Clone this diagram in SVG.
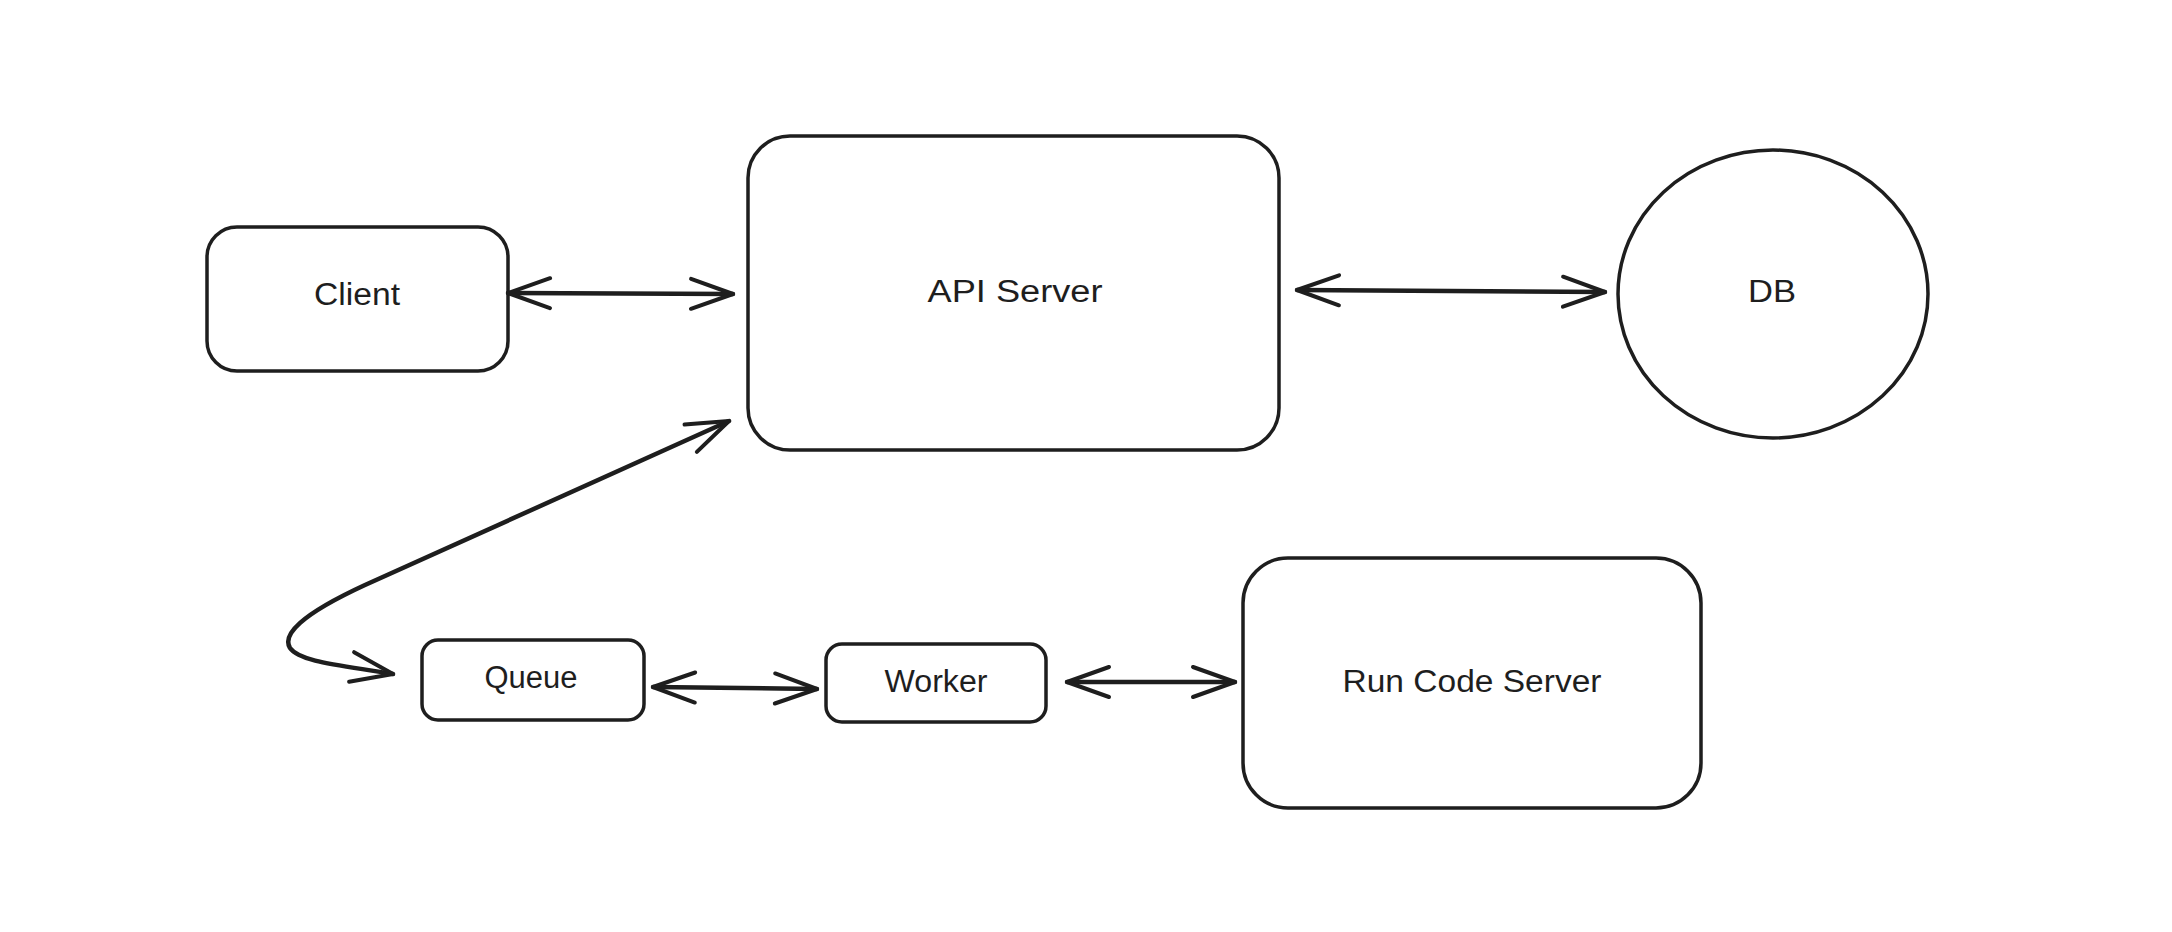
<svg xmlns="http://www.w3.org/2000/svg" width="2172" height="932" viewBox="0 0 2172 932">
  <style>
    .shape { fill: none; stroke: #1e1e1e; stroke-width: 3.5; stroke-linejoin: round; }
    .edge { fill: none; stroke: #1e1e1e; stroke-width: 4.5; stroke-linecap: round; stroke-linejoin: round; }
    .label { font-family: "Liberation Sans", "Noto Sans", sans-serif; font-size: 31px; fill: #1e1e1e; text-anchor: middle; }
  </style>
  <defs>
    <marker id="open" viewBox="-47 -20 52 40" refX="0" refY="0" markerWidth="52" markerHeight="40" markerUnits="userSpaceOnUse" orient="auto-start-reverse">
      <path d="M -42,-15 L 0,0 L -42,15" fill="none" stroke="#1e1e1e" stroke-width="4" stroke-linecap="round" stroke-linejoin="round"/>
    </marker>
  </defs>
  <rect width="2172" height="932" fill="#ffffff"/>

  <g id="client">
    <rect class="shape" x="207" y="227" width="301" height="144" rx="30"/>
    <text class="label" x="357" y="305" textLength="86" lengthAdjust="spacingAndGlyphs">Client</text>
  </g>
  <g id="api-server">
    <rect class="shape" x="748" y="136" width="531" height="314" rx="42"/>
    <text class="label" x="1015" y="302" textLength="175" lengthAdjust="spacingAndGlyphs">API Server</text>
  </g>
  <g id="db">
    <ellipse class="shape" cx="1773" cy="294" rx="155" ry="144"/>
    <text class="label" x="1772" y="302" textLength="48" lengthAdjust="spacingAndGlyphs">DB</text>
  </g>
  <g id="queue">
    <rect class="shape" x="422" y="640" width="222" height="80" rx="16"/>
    <text class="label" x="531" y="688" textLength="93" lengthAdjust="spacingAndGlyphs">Queue</text>
  </g>
  <g id="worker">
    <rect class="shape" x="826" y="644" width="220" height="78" rx="16"/>
    <text class="label" x="936" y="692" textLength="103" lengthAdjust="spacingAndGlyphs">Worker</text>
  </g>
  <g id="run-code-server">
    <rect class="shape" x="1243" y="558" width="458" height="250" rx="45"/>
    <text class="label" x="1472" y="692" textLength="259" lengthAdjust="spacingAndGlyphs">Run Code Server</text>
  </g>

  <g id="connectors">
    <path class="edge" d="M 508,293 L 733,294" marker-start="url(#open)" marker-end="url(#open)"/>
    <path class="edge" d="M 1297,290 L 1605,292" marker-start="url(#open)" marker-end="url(#open)"/>
    <path class="edge" d="M 653,687 L 817,689" marker-start="url(#open)" marker-end="url(#open)"/>
    <path class="edge" d="M 1067,682 L 1235,682" marker-start="url(#open)" marker-end="url(#open)"/>
    <path class="edge" d="M 729,421 L 365,585 C 300,615 282,635 290,648 C 300,662 340,665 393,674" marker-start="url(#open)" marker-end="url(#open)"/>
  </g>
</svg>
